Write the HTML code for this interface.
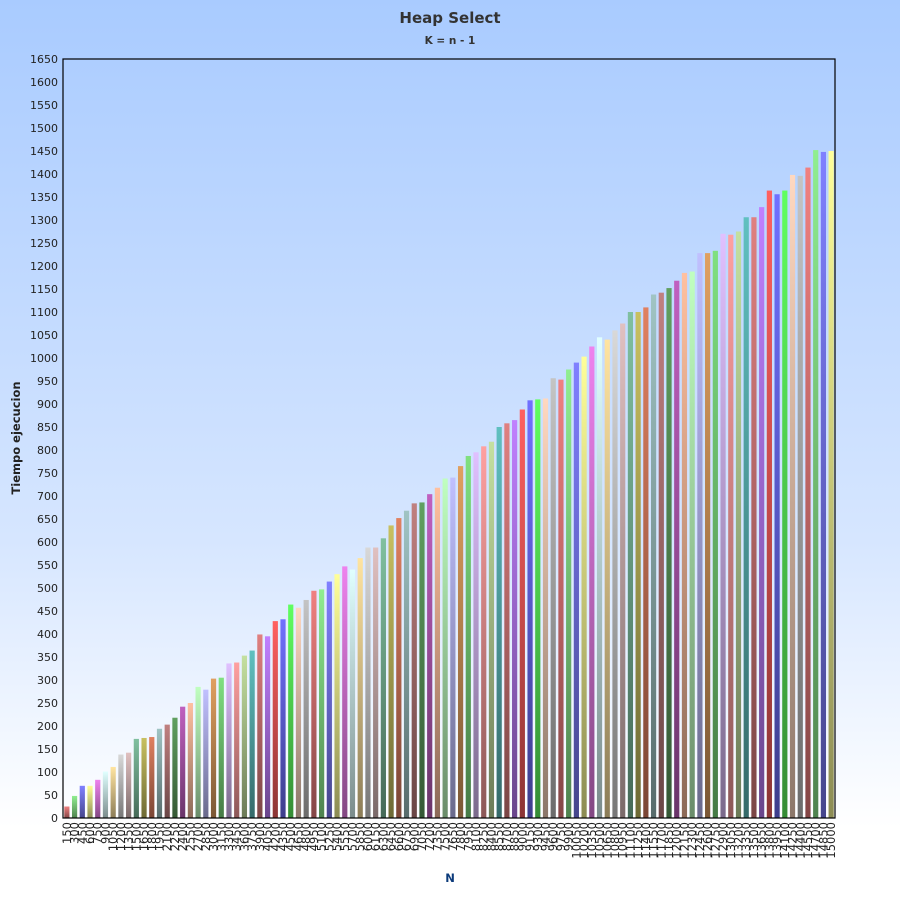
<!DOCTYPE html>
<html><head><meta charset="utf-8">
<style>
html,body{margin:0;padding:0;width:900px;height:900px;overflow:hidden;}
body{background:linear-gradient(to bottom,#a9cbff 0%,#d6e6ff 60%,#ffffff 92%);font-family:"DejaVu Sans","Liberation Sans",sans-serif;}
</style></head><body>
<svg id="chart" width="900" height="900" xmlns="http://www.w3.org/2000/svg" style="position:absolute;left:0;top:0;font-family:'DejaVu Sans','Liberation Sans',sans-serif">
<defs id="defs"></defs>
<text x="450" y="23" text-anchor="middle" font-size="15" font-weight="bold" fill="#333">Heap Select</text>
<text x="450" y="44" text-anchor="middle" font-size="10.5" font-weight="bold" fill="#333">K = n - 1</text>
<text transform="translate(20,438) rotate(-90)" text-anchor="middle" font-size="11.5" font-weight="bold" fill="#222">Tiempo ejecucion</text>
<text x="450" y="882" text-anchor="middle" font-size="11.5" font-weight="bold" fill="#0b3a7a">N</text>
<g id="bars"></g>
<g id="yticks"></g>
<g id="xticks"></g>
<rect x="63" y="59" width="772" height="759" fill="none" stroke="#000" stroke-width="1.2"/>
</svg>
<script>
const categories = [];
for (let n = 150; n <= 15000; n += 150) categories.push(n);
const values = [25,48,70,70,83,101,111,138,142,172,174,176,194,203,218,242,250,285,279,303,
305,336,338,353,364,399,395,428,432,464,457,474,494,497,514,530,547,540,565,588,
588,608,636,652,668,684,686,704,718,738,740,765,787,795,808,818,850,858,865,888,
908,910,912,956,953,975,990,1003,1025,1045,1040,1060,1075,1100,1100,1110,1138,1142,1152,1168,
1185,1188,1228,1228,1233,1270,1268,1275,1306,1306,1328,1364,1356,1364,1398,1396,1414,1452,1448,1450];
const yTicks = [];
for (let v = 0; v <= 1650; v += 50) yTicks.push(v);
const palette = ["#f08080","#90ee90","#8080ff","#ffff99","#ee82ee","#e0ffff","#ffe4a0","#d8d8d8",
"#e0c0c0","#80c0a0","#c8c060","#e08060","#a0c4c4","#c08080","#60a060","#c060c0",
"#ffc0a0","#c0ffc0","#c0c0ff","#e0a060","#80e080","#e0c0ff","#ffa0a0","#c4e0a0",
"#60c0c0","#e08080","#c080ff","#ff6060","#7070ff","#60ff60","#ffd8c0","#c4c4c4"];
const X0=63, X1=835, Y0=818, Y1=59, YMAX=1650;
const xScale = i => X0 + (X1-X0)/categories.length*(i+0.5);
const yScale = v => Y0 - (Y0-Y1)*v/YMAX;
const NS="http://www.w3.org/2000/svg";
function dark(hex){const r=parseInt(hex.substr(1,2),16),g=parseInt(hex.substr(3,2),16),b=parseInt(hex.substr(5,2),16);
 const f=c=>Math.round(c*0.55).toString(16).padStart(2,'0');return "#"+f(r)+f(g)+f(b);}
const defs=document.getElementById('defs');
palette.forEach((c,k)=>{const lg=document.createElementNS(NS,'linearGradient');
 lg.setAttribute('id','g'+k);lg.setAttribute('x1','0');lg.setAttribute('y1','0');lg.setAttribute('x2','0');lg.setAttribute('y2','1');
 const s1=document.createElementNS(NS,'stop');s1.setAttribute('offset','0');s1.setAttribute('stop-color',c);
 const s2=document.createElementNS(NS,'stop');s2.setAttribute('offset','1');s2.setAttribute('stop-color',dark(c));
 lg.appendChild(s1);lg.appendChild(s2);defs.appendChild(lg);});
const bars=document.getElementById('bars'), xt=document.getElementById('xticks'), yt=document.getElementById('yticks');
const bw=5.2;
values.forEach((v,i)=>{const r=document.createElementNS(NS,'rect');
 
 
 const cx=xScale(i), y=yScale(v);
 r.setAttribute('x',cx-bw/2);r.setAttribute('y',y);r.setAttribute('width',bw);r.setAttribute('height',Y0-y);
 r.setAttribute('fill','url(#g'+(i%palette.length)+')');bars.appendChild(r);
 const t=document.createElementNS(NS,'text');
 
 
 t.setAttribute('transform','translate('+(cx+4)+','+(Y0+4)+') rotate(-90)');
 t.setAttribute('text-anchor','end');t.setAttribute('font-size','11.5');t.setAttribute('fill','#222');
 t.textContent=categories[i];xt.appendChild(t);});
yTicks.forEach(v=>{const t=document.createElementNS(NS,'text');
 
 
 t.setAttribute('x',58);t.setAttribute('y',yScale(v)+4);t.setAttribute('text-anchor','end');
 t.setAttribute('font-size','11');t.setAttribute('fill','#222');t.textContent=v;yt.appendChild(t);});
</script>
</body></html>
